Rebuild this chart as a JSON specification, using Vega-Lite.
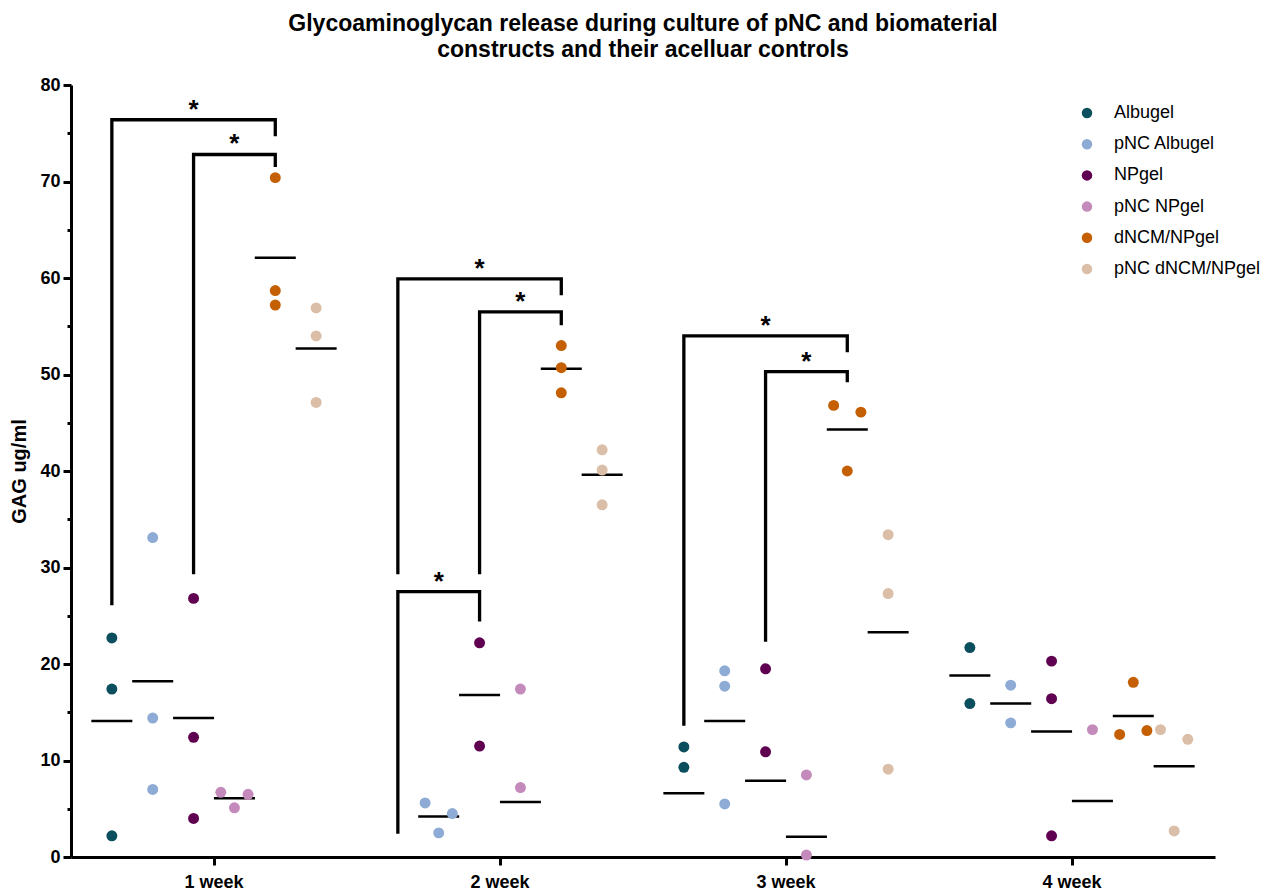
{
  "$schema": "https://vega.github.io/schema/vega-lite/v6.json",
  "width": 1144,
  "height": 772,
  "autosize": {"type": "none"},
  "padding": {"left": 71, "top": 85, "right": 64, "bottom": 33},
  "background": "white",
  "config": {"font": "Liberation Sans", "view": {"stroke": null}, "axis": {"grid": false}},
  "title": {
    "text": ["Glycoaminoglycan release during culture of pNC and biomaterial", "constructs and their acelluar controls"],
    "fontSize": 23, "fontWeight": "bold", "color": "black", "anchor": "middle", "frame": "group", "lineHeight": 26.5, "offset": 14
  },
  "datasets": {
    "points": [
      {"week": "1 week", "group": "Albugel", "value": 22.7, "slot": "Albugel"},
      {"week": "1 week", "group": "Albugel", "value": 17.4, "slot": "Albugel"},
      {"week": "1 week", "group": "Albugel", "value": 2.2, "slot": "Albugel"},
      {"week": "1 week", "group": "pNC Albugel", "value": 33.1, "slot": "pNC Albugel"},
      {"week": "1 week", "group": "pNC Albugel", "value": 14.4, "slot": "pNC Albugel"},
      {"week": "1 week", "group": "pNC Albugel", "value": 7.0, "slot": "pNC Albugel"},
      {"week": "1 week", "group": "NPgel", "value": 26.8, "slot": "NPgel"},
      {"week": "1 week", "group": "NPgel", "value": 12.4, "slot": "NPgel"},
      {"week": "1 week", "group": "NPgel", "value": 4.0, "slot": "NPgel"},
      {"week": "1 week", "group": "pNC NPgel", "value": 6.7, "slot": "pNC NPgel (left)"},
      {"week": "1 week", "group": "pNC NPgel", "value": 5.1, "slot": "pNC NPgel"},
      {"week": "1 week", "group": "pNC NPgel", "value": 6.5, "slot": "pNC NPgel (right)"},
      {"week": "1 week", "group": "dNCM/NPgel", "value": 70.4, "slot": "dNCM/NPgel"},
      {"week": "1 week", "group": "dNCM/NPgel", "value": 58.7, "slot": "dNCM/NPgel"},
      {"week": "1 week", "group": "dNCM/NPgel", "value": 57.2, "slot": "dNCM/NPgel"},
      {"week": "1 week", "group": "pNC dNCM/NPgel", "value": 56.9, "slot": "pNC dNCM/NPgel"},
      {"week": "1 week", "group": "pNC dNCM/NPgel", "value": 54.0, "slot": "pNC dNCM/NPgel"},
      {"week": "1 week", "group": "pNC dNCM/NPgel", "value": 47.1, "slot": "pNC dNCM/NPgel"},
      {"week": "2 week", "group": "pNC Albugel", "value": 5.6, "slot": "pNC Albugel (left)"},
      {"week": "2 week", "group": "pNC Albugel", "value": 2.5, "slot": "pNC Albugel"},
      {"week": "2 week", "group": "pNC Albugel", "value": 4.5, "slot": "pNC Albugel (right)"},
      {"week": "2 week", "group": "NPgel", "value": 22.2, "slot": "NPgel"},
      {"week": "2 week", "group": "NPgel", "value": 11.5, "slot": "NPgel"},
      {"week": "2 week", "group": "pNC NPgel", "value": 17.4, "slot": "pNC NPgel"},
      {"week": "2 week", "group": "pNC NPgel", "value": 7.2, "slot": "pNC NPgel"},
      {"week": "2 week", "group": "dNCM/NPgel", "value": 53.0, "slot": "dNCM/NPgel"},
      {"week": "2 week", "group": "dNCM/NPgel", "value": 50.7, "slot": "dNCM/NPgel"},
      {"week": "2 week", "group": "dNCM/NPgel", "value": 48.1, "slot": "dNCM/NPgel"},
      {"week": "2 week", "group": "pNC dNCM/NPgel", "value": 42.2, "slot": "pNC dNCM/NPgel"},
      {"week": "2 week", "group": "pNC dNCM/NPgel", "value": 40.1, "slot": "pNC dNCM/NPgel"},
      {"week": "2 week", "group": "pNC dNCM/NPgel", "value": 36.5, "slot": "pNC dNCM/NPgel"},
      {"week": "3 week", "group": "Albugel", "value": 11.4, "slot": "Albugel"},
      {"week": "3 week", "group": "Albugel", "value": 9.3, "slot": "Albugel"},
      {"week": "3 week", "group": "pNC Albugel", "value": 19.3, "slot": "pNC Albugel"},
      {"week": "3 week", "group": "pNC Albugel", "value": 17.7, "slot": "pNC Albugel"},
      {"week": "3 week", "group": "pNC Albugel", "value": 5.5, "slot": "pNC Albugel"},
      {"week": "3 week", "group": "NPgel", "value": 19.5, "slot": "NPgel"},
      {"week": "3 week", "group": "NPgel", "value": 10.9, "slot": "NPgel"},
      {"week": "3 week", "group": "pNC NPgel", "value": 8.5, "slot": "pNC NPgel"},
      {"week": "3 week", "group": "pNC NPgel", "value": 0.2, "slot": "pNC NPgel"},
      {"week": "3 week", "group": "dNCM/NPgel", "value": 46.8, "slot": "dNCM/NPgel (left)"},
      {"week": "3 week", "group": "dNCM/NPgel", "value": 40.0, "slot": "dNCM/NPgel"},
      {"week": "3 week", "group": "dNCM/NPgel", "value": 46.1, "slot": "dNCM/NPgel (right)"},
      {"week": "3 week", "group": "pNC dNCM/NPgel", "value": 33.4, "slot": "pNC dNCM/NPgel"},
      {"week": "3 week", "group": "pNC dNCM/NPgel", "value": 27.3, "slot": "pNC dNCM/NPgel"},
      {"week": "3 week", "group": "pNC dNCM/NPgel", "value": 9.1, "slot": "pNC dNCM/NPgel"},
      {"week": "4 week", "group": "Albugel", "value": 21.7, "slot": "Albugel"},
      {"week": "4 week", "group": "Albugel", "value": 15.9, "slot": "Albugel"},
      {"week": "4 week", "group": "pNC Albugel", "value": 17.8, "slot": "pNC Albugel"},
      {"week": "4 week", "group": "pNC Albugel", "value": 13.9, "slot": "pNC Albugel"},
      {"week": "4 week", "group": "NPgel", "value": 20.3, "slot": "NPgel"},
      {"week": "4 week", "group": "NPgel", "value": 16.4, "slot": "NPgel"},
      {"week": "4 week", "group": "NPgel", "value": 2.2, "slot": "NPgel"},
      {"week": "4 week", "group": "pNC NPgel", "value": 13.2, "slot": "pNC NPgel"},
      {"week": "4 week", "group": "dNCM/NPgel", "value": 12.7, "slot": "dNCM/NPgel (left)"},
      {"week": "4 week", "group": "dNCM/NPgel", "value": 18.1, "slot": "dNCM/NPgel"},
      {"week": "4 week", "group": "dNCM/NPgel", "value": 13.1, "slot": "dNCM/NPgel (right)"},
      {"week": "4 week", "group": "pNC dNCM/NPgel", "value": 13.2, "slot": "pNC dNCM/NPgel (left)"},
      {"week": "4 week", "group": "pNC dNCM/NPgel", "value": 2.7, "slot": "pNC dNCM/NPgel"},
      {"week": "4 week", "group": "pNC dNCM/NPgel", "value": 12.2, "slot": "pNC dNCM/NPgel (right)"}
    ],
    "means": [
      {"week": "1 week", "group": "Albugel", "value": 14.1},
      {"week": "1 week", "group": "pNC Albugel", "value": 18.2},
      {"week": "1 week", "group": "NPgel", "value": 14.4},
      {"week": "1 week", "group": "pNC NPgel", "value": 6.1},
      {"week": "1 week", "group": "dNCM/NPgel", "value": 62.1},
      {"week": "1 week", "group": "pNC dNCM/NPgel", "value": 52.7},
      {"week": "2 week", "group": "pNC Albugel", "value": 4.2},
      {"week": "2 week", "group": "NPgel", "value": 16.8},
      {"week": "2 week", "group": "pNC NPgel", "value": 5.7},
      {"week": "2 week", "group": "dNCM/NPgel", "value": 50.6},
      {"week": "2 week", "group": "pNC dNCM/NPgel", "value": 39.6},
      {"week": "3 week", "group": "Albugel", "value": 6.6},
      {"week": "3 week", "group": "pNC Albugel", "value": 14.1},
      {"week": "3 week", "group": "NPgel", "value": 7.9},
      {"week": "3 week", "group": "pNC NPgel", "value": 2.1},
      {"week": "3 week", "group": "dNCM/NPgel", "value": 44.3},
      {"week": "3 week", "group": "pNC dNCM/NPgel", "value": 23.3},
      {"week": "4 week", "group": "Albugel", "value": 18.8},
      {"week": "4 week", "group": "pNC Albugel", "value": 15.9},
      {"week": "4 week", "group": "NPgel", "value": 13.0},
      {"week": "4 week", "group": "pNC NPgel", "value": 5.8},
      {"week": "4 week", "group": "dNCM/NPgel", "value": 14.6},
      {"week": "4 week", "group": "pNC dNCM/NPgel", "value": 9.4}
    ],
    "brackets": [
      {"id": "b1", "week": "1 week", "group": "Albugel", "value": 26.1, "ord": 1},
      {"id": "b1", "week": "1 week", "group": "Albugel", "value": 76.4, "ord": 2},
      {"id": "b1", "week": "1 week", "group": "dNCM/NPgel", "value": 76.4, "ord": 3},
      {"id": "b1", "week": "1 week", "group": "dNCM/NPgel", "value": 74.7, "ord": 4},
      {"id": "b2", "week": "1 week", "group": "NPgel", "value": 29.3, "ord": 1},
      {"id": "b2", "week": "1 week", "group": "NPgel", "value": 72.8, "ord": 2},
      {"id": "b2", "week": "1 week", "group": "dNCM/NPgel", "value": 72.8, "ord": 3},
      {"id": "b2", "week": "1 week", "group": "dNCM/NPgel", "value": 71.5, "ord": 4},
      {"id": "b3", "week": "2 week", "group": "Albugel", "value": 29.3, "ord": 1},
      {"id": "b3", "week": "2 week", "group": "Albugel", "value": 59.9, "ord": 2},
      {"id": "b3", "week": "2 week", "group": "dNCM/NPgel", "value": 59.9, "ord": 3},
      {"id": "b3", "week": "2 week", "group": "dNCM/NPgel", "value": 58.2, "ord": 4},
      {"id": "b4", "week": "2 week", "group": "NPgel", "value": 29.3, "ord": 1},
      {"id": "b4", "week": "2 week", "group": "NPgel", "value": 56.5, "ord": 2},
      {"id": "b4", "week": "2 week", "group": "dNCM/NPgel", "value": 56.5, "ord": 3},
      {"id": "b4", "week": "2 week", "group": "dNCM/NPgel", "value": 55.1, "ord": 4},
      {"id": "b5", "week": "2 week", "group": "Albugel", "value": 2.4, "ord": 1},
      {"id": "b5", "week": "2 week", "group": "Albugel", "value": 27.5, "ord": 2},
      {"id": "b5", "week": "2 week", "group": "NPgel", "value": 27.5, "ord": 3},
      {"id": "b5", "week": "2 week", "group": "NPgel", "value": 24.4, "ord": 4},
      {"id": "b6", "week": "3 week", "group": "Albugel", "value": 13.6, "ord": 1},
      {"id": "b6", "week": "3 week", "group": "Albugel", "value": 54.0, "ord": 2},
      {"id": "b6", "week": "3 week", "group": "dNCM/NPgel", "value": 54.0, "ord": 3},
      {"id": "b6", "week": "3 week", "group": "dNCM/NPgel", "value": 52.3, "ord": 4},
      {"id": "b7", "week": "3 week", "group": "NPgel", "value": 22.3, "ord": 1},
      {"id": "b7", "week": "3 week", "group": "NPgel", "value": 50.3, "ord": 2},
      {"id": "b7", "week": "3 week", "group": "dNCM/NPgel", "value": 50.3, "ord": 3},
      {"id": "b7", "week": "3 week", "group": "dNCM/NPgel", "value": 49.2, "ord": 4}
    ],
    "stars": [
      {"week": "1 week", "group": "NPgel", "value": 76.4, "label": "*"},
      {"week": "1 week", "group": "pNC NPgel", "value": 72.8, "label": "*"},
      {"week": "2 week", "group": "NPgel", "value": 59.9, "label": "*"},
      {"week": "2 week", "group": "pNC NPgel", "value": 56.5, "label": "*"},
      {"week": "2 week", "group": "pNC Albugel", "value": 27.5, "label": "*"},
      {"week": "3 week", "group": "NPgel", "value": 54.0, "label": "*"},
      {"week": "3 week", "group": "pNC NPgel", "value": 50.3, "label": "*"}
    ]
  },
  "encoding": {
    "x": {
      "field": "week", "type": "nominal",
      "scale": {"domain": ["1 week", "2 week", "3 week", "4 week"], "paddingInner": 0, "paddingOuter": 0},
      "axis": {"title": null, "labelAngle": 0, "labelFontSize": 18, "labelFontWeight": "bold", "labelColor": "black", "labelPadding": 8, "tickSize": 8, "tickWidth": 3, "tickColor": "black", "domainColor": "black", "domainWidth": 3, "grid": false}
    },
    "xOffset": {
      "field": "group", "type": "nominal",
      "scale": {
        "domain": [
          "(start)",
          "Albugel (left)", "Albugel", "Albugel (right)",
          "pNC Albugel (left)", "pNC Albugel", "pNC Albugel (right)",
          "NPgel (left)", "NPgel", "NPgel (right)",
          "pNC NPgel (left)", "pNC NPgel", "pNC NPgel (right)",
          "dNCM/NPgel (left)", "dNCM/NPgel", "dNCM/NPgel (right)",
          "pNC dNCM/NPgel (left)", "pNC dNCM/NPgel", "pNC dNCM/NPgel (right)",
          "(end)"
        ],
        "paddingInner": 0, "paddingOuter": 0.5
      }
    },
    "y": {
      "field": "value", "type": "quantitative",
      "scale": {"domain": [0, 80], "nice": false},
      "axis": {
        "title": "GAG ug/ml", "titleFontSize": 20, "titleFontWeight": "bold", "titleColor": "black", "titlePadding": 10,
        "values": [0, 5, 10, 15, 20, 25, 30, 35, 40, 45, 50, 55, 60, 65, 70, 75, 80],
        "labelExpr": "datum.value % 10 === 0 ? datum.label : ''",
        "labelFontSize": 18, "labelFontWeight": "bold", "labelColor": "black", "labelPadding": 3, "labelOverlap": false, "labelFlush": false,
        "tickSize": {"condition": {"test": "datum.value % 10 === 0", "value": 8}, "value": 4},
        "tickWidth": 3, "tickColor": "black", "domainColor": "black", "domainWidth": 3, "grid": false
      }
    }
  },
  "layer": [
    {
      "data": {"name": "brackets"},
      "mark": {"type": "line", "color": "black", "strokeWidth": 3.3, "strokeJoin": "miter", "strokeCap": "butt"},
      "encoding": {"detail": {"field": "id", "type": "nominal"}, "order": {"field": "ord", "type": "quantitative"}}
    },
    {
      "data": {"name": "means"},
      "mark": {"type": "tick", "color": "black", "thickness": 2.5, "size": 41, "orient": "horizontal", "opacity": 1}
    },
    {
      "data": {"name": "points"},
      "mark": {"type": "circle", "size": 120, "opacity": 1},
      "encoding": {
        "xOffset": {"field": "slot", "type": "nominal"},
        "color": {
          "field": "group", "type": "nominal",
          "scale": {"domain": ["Albugel", "pNC Albugel", "NPgel", "pNC NPgel", "dNCM/NPgel", "pNC dNCM/NPgel"], "range": ["#0b4e5e", "#8dabd4", "#5f0050", "#c48abb", "#c45f03", "#dbbea7"]},
          "legend": {"title": null, "orient": "none", "legendX": 1007, "legendY": 19, "padding": 0, "symbolType": "circle", "symbolSize": 110, "symbolStrokeWidth": 0, "symbolOpacity": 1, "labelFontSize": 18, "labelColor": "black", "labelOffset": 18, "rowPadding": 13.2}
        }
      }
    },
    {
      "data": {"name": "stars"},
      "mark": {"type": "text", "fontSize": 26, "fontWeight": "bold", "color": "black", "baseline": "alphabetic", "align": "center", "dy": -2},
      "encoding": {"text": {"field": "label", "type": "nominal"}}
    }
  ]
}
